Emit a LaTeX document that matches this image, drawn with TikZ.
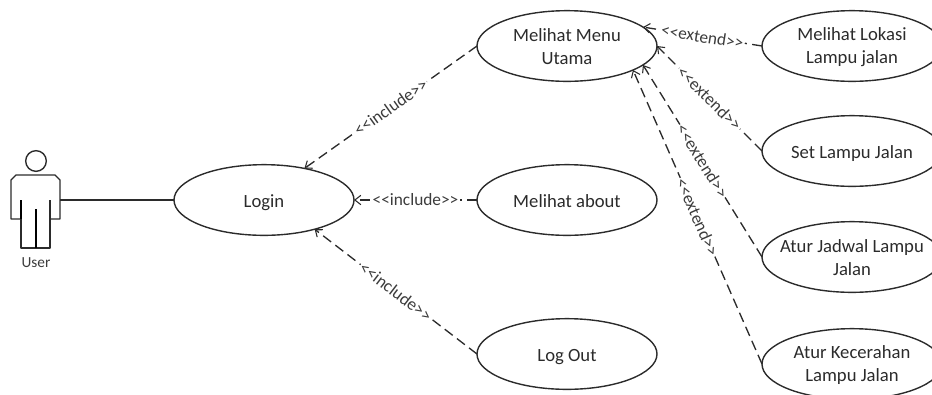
\documentclass[tikz,border=0pt]{standalone}
\usepackage{fontspec}
\setmainfont{Carlito}
\newfontfamily\plainfont{Carlito}
\usetikzlibrary{arrows.meta,shapes.geometric}
\definecolor{ink}{HTML}{2B2B2B}
\definecolor{soft}{HTML}{3C3C3C}
\newcommand{\tstrut}{\rule{0pt}{14pt}}
\newcommand{\ttstrut}{\rule{0pt}{11pt}}
\newcommand{\bstrut}{\rule[-3.5pt]{0pt}{3.5pt}}
\tikzset{
  usecase/.style={ellipse,draw=ink,line width=1.05pt,minimum width=135pt,minimum height=53pt,inner sep=0pt,outer sep=0pt,align=center,text=ink,font=\plainfont\fontsize{14}{17.5}\selectfont},
  oneline/.style={usecase,execute at begin node=\tstrut,execute at end node=\bstrut},
  twoline/.style={usecase,inner ysep=-5pt},
  dep/.style={draw=ink,line width=1pt,dash pattern=on 7.5pt off 4pt,-{Straight Barb[length=4.5pt,width=7pt,line width=0.8pt]}},
  deplabel/.style={fill=white,sloped,pos=.5,inner sep=1pt,text=soft,font=\plainfont\fontsize{13}{15}\selectfont},
  actorline/.style={draw=ink,line width=1.05pt,line join=round},
  actorthick/.style={draw=black,line width=1.5pt},
}
\begin{document}
\begin{tikzpicture}[x=0.75pt,y=-0.75pt]
\useasboundingbox (0,0) rectangle (932,394);
\clip (0,0) rectangle (932,394);
% actor
\node[circle,draw=ink,line width=1.05pt,minimum size=15.5pt,inner sep=0pt] (head) at (36,161) {};
\draw[actorline] (20,219) -- (11,219) -- (11,180) -- (16,175) -- (55,175) -- (60,180) -- (60,219) -- (50,219);
\draw[actorline] (21,200) -- (21,248) -- (50,248) -- (50,200);
\draw[actorthick] (21,200) -- (21,219);
\draw[actorthick] (36,209) -- (36,248);
\node[text=soft,font=\plainfont\fontsize{11.5}{13}\selectfont] (userlbl) at (36,263) {User};
\coordinate (hand) at (60,200);
% use cases
\node[oneline] (login) at (264,200) {Login};
\node[twoline] (menu) at (567,46) {\ttstrut Melihat Menu\\Utama};
\node[oneline] (about) at (567,200) {Melihat about};
\node[oneline] (logout) at (567,354) {Log Out};
\node[twoline] (lokasi) at (852,46) {\ttstrut Melihat Lokasi\\Lampu jalan};
\node[oneline] (set) at (852,151) {Set Lampu Jalan};
\node[twoline] (jadwal) at (852,257) {\ttstrut\makebox[0pt]{Atur Jadwal Lampu}\\Jalan};
\node[twoline] (cerah) at (852,364) {\ttstrut Atur Kecerahan\\Lampu Jalan};
% connectors
\draw[actorline] (hand) -- (login.west);
\draw[dep] (menu.west) -- node[deplabel] {<<include>>} (login.38);
\draw[dep] (about.west) -- node[deplabel] {<<include>>} (login.east);
\draw[dep] (logout.west) -- node[deplabel] {<<include>>} (login.-30);
\draw[dep] (lokasi.west) -- node[deplabel] {<<extend>>} (menu.14);
\draw[dep] (set.west) -- node[deplabel] {<<extend>>} (menu.east);
\draw[dep] (jadwal.west) -- node[deplabel] {<<extend>>} (menu.-14);
\draw[dep] (cerah.west) -- node[deplabel] {<<extend>>} (menu.-20);
\end{tikzpicture}
\end{document}
